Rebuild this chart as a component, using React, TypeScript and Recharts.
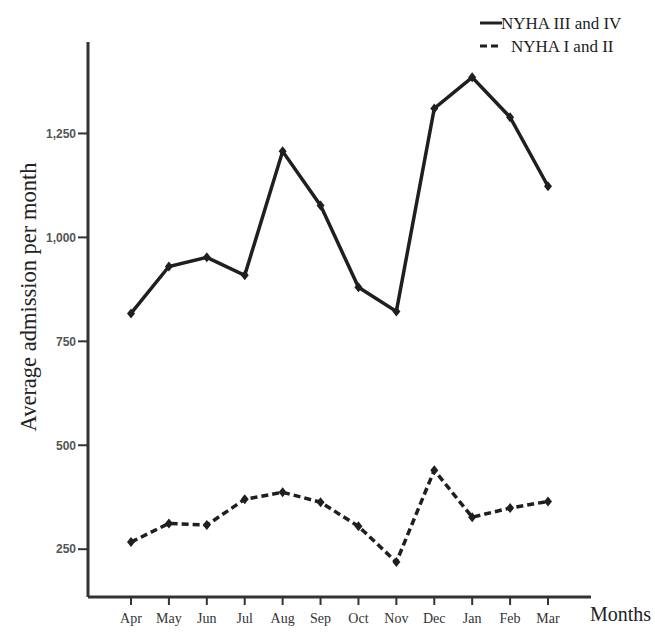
import { LineChart, Line, XAxis, YAxis, Legend, Label } from "recharts"

const months = ["Apr", "May", "Jun", "Jul", "Aug", "Sep", "Oct", "Nov", "Dec", "Jan", "Feb", "Mar"]
const nyhaSevere = [817, 930, 952, 909, 1207, 1077, 880, 822, 1310, 1385, 1289, 1123]
const nyhaMild = [267, 312, 308, 370, 387, 363, 305, 219, 440, 327, 349, 365]
const yTicks = [250, 500, 750, 1000, 1250]
const seriesOrder = ["severe", "mild"]

const data = months.map((m, i) => ({ month: m, severe: nyhaSevere[i], mild: nyhaMild[i] }))

const ink = "#1f1f1f"
const axisInk = "#333"
const serif = "'Liberation Serif', 'Times New Roman', serif"

const Diamond = (props: any) => {
  const { cx, cy } = props
  if (cx == null || cy == null) return null
  return (
    <polygon
      points={`${cx},${cy - 5} ${cx + 4},${cy} ${cx},${cy + 5} ${cx - 4},${cy}`}
      fill={ink}
    />
  )
}

const renderLegend = (props: any) => {
  const items = [...(props.payload || [])].sort(
    (a: any, b: any) => seriesOrder.indexOf(a.dataKey) - seriesOrder.indexOf(b.dataKey)
  )
  return (
    <svg width={177} height={52}>
      {items.map((entry: any, i: number) => {
        const y = 15 + i * 23
        const dash = entry.payload?.strokeDasharray
        return (
          <g key={entry.value}>
            <line x1={2} x2={24} y1={y} y2={y} stroke={ink} strokeWidth={3} strokeDasharray={dash} />
            <text x={i === 0 ? 23 : 33} y={y + 6} fontFamily={serif} fontSize={17} fill="#222">
              {entry.value}
            </text>
          </g>
        )
      })}
    </svg>
  )
}

export default function App() {
  return (
    <div style={{ position: "fixed", left: 0, top: 0, width: 655, height: 642, background: "#fff" }}>
      <LineChart width={655} height={642} data={data} margin={{ top: 42, right: 64, bottom: 0, left: 0 }}>
        <XAxis
          dataKey="month"
          padding={{ left: 43, right: 43 }}
          height={45}
          tickSize={8}
          tickMargin={8}
          axisLine={{ stroke: axisInk, strokeWidth: 3 }}
          tickLine={{ stroke: axisInk, strokeWidth: 2 }}
          tick={{ fontFamily: serif, fontSize: 14, fill: "#333" }}
          interval={0}
        >
          <Label
            content={() => (
              <text x={590} y={621} fontFamily={serif} fontSize={20} fill="#222">
                Months
              </text>
            )}
          />
        </XAxis>
        <YAxis
          width={88}
          domain={[135, 1470]}
          ticks={yTicks}
          tickSize={10}
          tickMargin={2}
          tickFormatter={(v: number) => v.toLocaleString("en-US")}
          axisLine={{ stroke: axisInk, strokeWidth: 3 }}
          tickLine={{ stroke: axisInk, strokeWidth: 2 }}
          tick={{ fontFamily: "'Liberation Sans', Arial, sans-serif", fontSize: 12, fontWeight: "bold", fill: "#555" }}
          allowDataOverflow
        >
          <Label
            content={() => (
              <text
                x={28}
                y={297}
                transform="rotate(-90 28 297)"
                textAnchor="middle"
                dominantBaseline="central"
                fontFamily={serif}
                fontSize={22.5}
                fill="#222"
              >
                Average admission per month
              </text>
            )}
          />
        </YAxis>
        <Legend
          layout="horizontal"
          verticalAlign="middle"
          align="center"
          content={renderLegend}
          wrapperStyle={{ position: "absolute", top: 8, left: 478, width: 177, height: 52 }}
        />
        <Line
          type="linear"
          dataKey="severe"
          name="NYHA III and IV"
          stroke={ink}
          strokeWidth={3.5}
          dot={<Diamond />}
          activeDot={false}
          isAnimationActive={false}
        />
        <Line
          type="linear"
          dataKey="mild"
          name="NYHA I and II"
          stroke={ink}
          strokeWidth={3.5}
          strokeDasharray="7 4"
          dot={<Diamond />}
          activeDot={false}
          isAnimationActive={false}
        />
      </LineChart>
    </div>
  )
}
